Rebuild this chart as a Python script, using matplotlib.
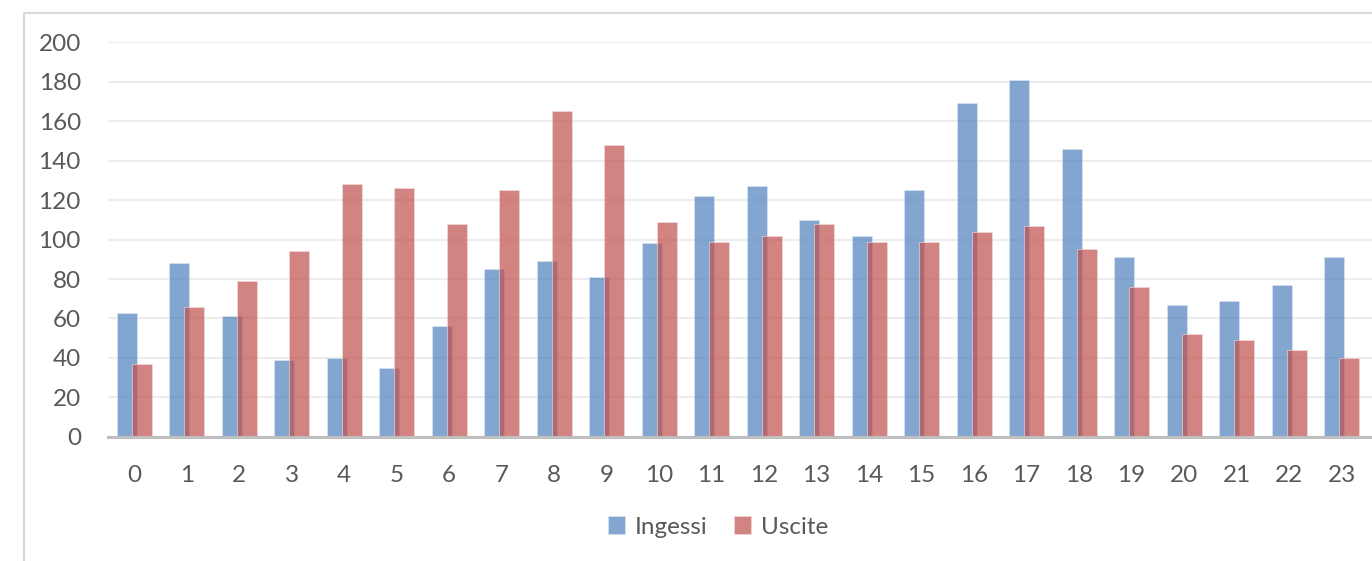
import numpy as np
import matplotlib
matplotlib.use('Agg')
import matplotlib.pyplot as plt
from matplotlib.lines import Line2D

# Data (hour of day)
hours = [str(h) for h in range(24)]
ingressi = [63, 88, 61, 39, 40, 35, 56, 85, 89, 81, 98, 122,
            127, 110, 102, 125, 169, 181, 146, 91, 67, 69, 77, 91]
uscite = [37, 66, 79, 94, 128, 126, 108, 125, 165, 148, 109, 99,
          102, 108, 99, 99, 104, 107, 95, 76, 52, 49, 44, 40]
legend_labels = ['Ingessi', 'Uscite']
yticks = [0, 20, 40, 60, 80, 100, 120, 140, 160, 180, 200]

plt.rcParams['font.family'] = ['Lato', 'DejaVu Sans']
textcol = '#595959'

fig = plt.figure(figsize=(13.72, 5.61), dpi=100)
ax = fig.add_axes([108/1372, 1 - 436.8/561, 1 - 108/1372, (436.8 - 42.3)/561])

x = np.arange(len(hours))
w = 0.38
off = 0.143
b1 = ax.bar(x - off, ingressi, w, color='#4F81BD', alpha=0.7,
            edgecolor='#DCE6F2', linewidth=0.6, zorder=3, label=legend_labels[0])
b2 = ax.bar(x + off, uscite, w, color='#C0504D', alpha=0.7,
            edgecolor='#F2DCDB', linewidth=0.6, zorder=4, label=legend_labels[1])

ax.set_xlim(-0.5, 23.58)
ax.set_ylim(0, 200)
ax.set_yticks(yticks)
ax.set_xticks(x)
ax.set_xticklabels(hours)
ax.grid(axis='y', color='#EDEDED', linewidth=1.6, zorder=0)
ax.set_axisbelow(True)
for s in ['top', 'right', 'left']:
    ax.spines[s].set_visible(False)
ax.spines['bottom'].set_color('#BFBFBF')
ax.spines['bottom'].set_linewidth(2.2)
ax.spines['bottom'].set_zorder(5)
ax.tick_params(axis='both', length=0, labelsize=17.5, colors=textcol)
ax.tick_params(axis='y', pad=19.5)
ax.tick_params(axis='x', pad=20)

leg = fig.legend(handles=[b1, b2], labels=legend_labels, loc='center',
                 bbox_to_anchor=(718/1372, 1 - 527/561), ncol=2, frameon=False,
                 fontsize=17.5, handlelength=0.7, handleheight=0.7,
                 handletextpad=0.4, columnspacing=1.1)
for t in leg.get_texts():
    t.set_color(textcol)

# chart area border (cropped screenshot: only top and left visible)
fig.add_artist(Line2D([24/1372, 1], [1 - 13/561, 1 - 13/561],
                      transform=fig.transFigure, color='#D9D9D9', linewidth=1.5))
fig.add_artist(Line2D([24/1372, 24/1372], [0, 1 - 13/561],
                      transform=fig.transFigure, color='#D9D9D9', linewidth=1.5))

fig.savefig('out.png', dpi=100)
